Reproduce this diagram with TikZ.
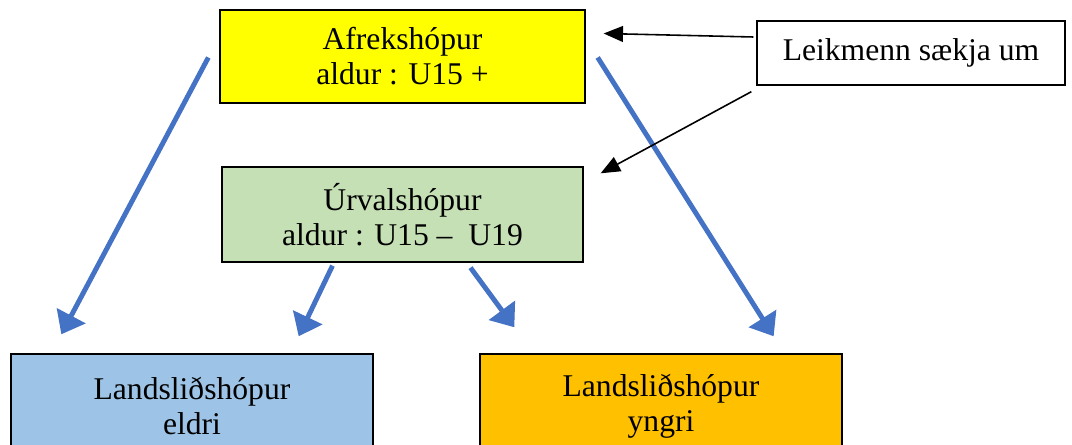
\documentclass[tikz,border=0pt]{standalone}
\usepackage{fontspec}
\setmainfont{Liberation Serif}
\usepackage{tikz}
\usetikzlibrary{calc}
\usetikzlibrary{arrows.meta}

\definecolor{afrekgul}{HTML}{FFFF00}
\definecolor{urvalgraenn}{HTML}{C5E0B4}
\definecolor{eldriblar}{HTML}{9DC3E6}
\definecolor{yngriappel}{HTML}{FFC000}
\definecolor{orblar}{HTML}{4472C4}

\begin{document}
\begin{tikzpicture}[x=0.02cm, y=-0.02cm,
		hopur/.style={draw, line width=0.8pt, align=center, inner sep=0pt,
			font=\fontsize{18}{20}\selectfont},
		blaor/.style={orblar, line width=2.8pt, -{Triangle[width=18pt, length=12pt]}},
		svartor/.style={black, line width=0.9pt, -{Triangle[width=9pt, length=11pt]}}]
			
			\useasboundingbox (0, 0) rectangle (1072, 445);

			\node[hopur, fill=afrekgul, minimum width=7.3cm, minimum height=1.86cm] (afrek) at (402.5, 56.5){Afrekshópur\\aldur : U15 +};
			\node[hopur, fill=urvalgraenn, minimum width=7.22cm, minimum height=1.9cm] (urval) at (402.5, 214.5){Úrvalshópur\\aldur : U15 –~ U19};
			\node[hopur, minimum width=6.16cm, minimum height=1.28cm] (leik) at (911, 53){Leikmenn sækja um};

			\node[hopur, fill=eldriblar, minimum width=7.24cm, minimum height=2.08cm] (eldri) at (192, 406){Landsliðshópur\\eldri};
			\node[hopur, fill=yngriappel, minimum width=7.24cm, minimum height=2.08cm] (yngri) at (661, 406){Landsliðshópur\\yngri};

			\draw[blaor] ($(afrek.west)+(-11, 1)$)--($(eldri.north west)+(51, -19)$);
			\draw[blaor] ($(afrek.east)+(12, 1)$)--($(yngri.north east)+(-69, -17)$);
			\draw[blaor] ($(urval.south)+(-70, 3)$)--($(eldri.north east)+(-75, -17)$);
			\draw[blaor] ($(urval.south)+(68, 5)$)--($(yngri.north west)+(35, -26)$);

			\draw[svartor] ($(leik.west)+(-3, -16)$)--($(afrek.east)+(18, -23)$);
			\draw[svartor] ($(leik.south west)+(-5, 6)$)--($(urval.north east)+(17, 7)$);
		\end{tikzpicture}
\end{document}
